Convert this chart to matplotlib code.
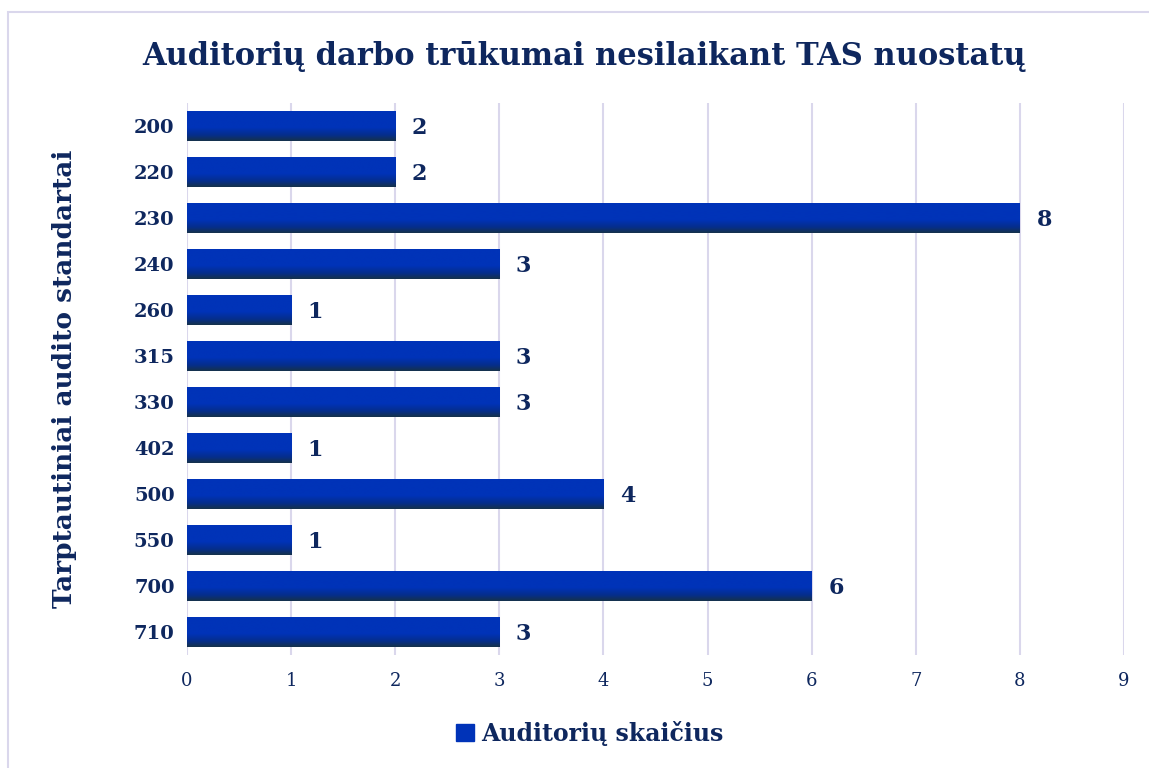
import numpy as np
import matplotlib.pyplot as plt
from matplotlib.patches import Rectangle
from matplotlib.colors import LinearSegmentedColormap

standards = ['200', '220', '230', '240', '260', '315', '330', '402', '500', '550', '700', '710']
counts = [2, 2, 8, 3, 1, 3, 3, 1, 4, 1, 6, 3]

navy = '#0E275E'
grid_col = '#DAD7EC'
plt.rcParams['font.family'] = ['DejaVu Serif']

fig = plt.figure(figsize=(11.49, 7.68), dpi=100)
ax = fig.add_axes([187/1149, 1 - 655/768, (1124-187)/1149, (655-103)/768])

y = np.arange(len(standards))
bars = ax.barh(y, counts, height=0.65, color='#0033B8', zorder=3)

# vertical gradient: bright blue on top, dark at the bottom edge
grad_cmap = LinearSegmentedColormap.from_list(
    'bar', [(0, '#0033B8'), (0.55, '#0033B8'), (0.8, '#052E8C'), (1.0, '#16324A')])
grad = np.linspace(0, 1, 256).reshape(-1, 1)
for b in bars:
    x0, y0 = b.get_x(), b.get_y()
    w, h = b.get_width(), b.get_height()
    im = ax.imshow(grad, cmap=grad_cmap, aspect='auto', origin='upper',
                   extent=[x0, x0 + w, y0 + h, y0], zorder=4)
    im.set_clip_path(b)
    ax.text(x0 + w + 0.16, y0 + h / 2 + 0.05, str(int(w)), va='center', ha='left',
            fontsize=16, fontweight='bold', color=navy, zorder=5)

ax.set_xlim(0, 9)
ax.set_ylim(len(standards) - 0.5, -0.5)
ax.set_xticks(range(10))
ax.set_yticks(y)
ax.set_yticklabels(standards, fontsize=14, fontweight='bold', color=navy)
ax.tick_params(axis='x', labelsize=13, colors=navy, length=0, pad=12)
ax.tick_params(axis='y', length=0, pad=9)
ax.grid(axis='x', color=grid_col, linewidth=1.5, zorder=0)
for s in ax.spines.values():
    s.set_visible(False)

ax.set_ylabel('Tarptautiniai audito standartai', fontsize=19, fontweight='bold',
              color=navy, labelpad=41)
fig.text(0.508, 1 - 57/768, 'Auditorių darbo trūkumai nesilaikant TAS nuostatų',
         ha='center', va='center', fontsize=22, fontweight='bold', color=navy)

# legend
handle = Rectangle((0, 0), 1, 1, color='#0033B8')
fig.legend([handle], ['Auditorių skaičius'], loc='center', bbox_to_anchor=(0.513, 1 - 733/768),
           frameon=False, prop={'size': 17, 'weight': 'bold'}, labelcolor=navy,
           handlelength=0.75, handleheight=0.75, handletextpad=0.3)

fig.patches.append(Rectangle((8/1149, -0.01), 1.02, 1 - 12/768 + 0.01, transform=fig.transFigure,
                             fill=False, edgecolor=grid_col, linewidth=1.5))

fig.savefig('out.png', dpi=100)
